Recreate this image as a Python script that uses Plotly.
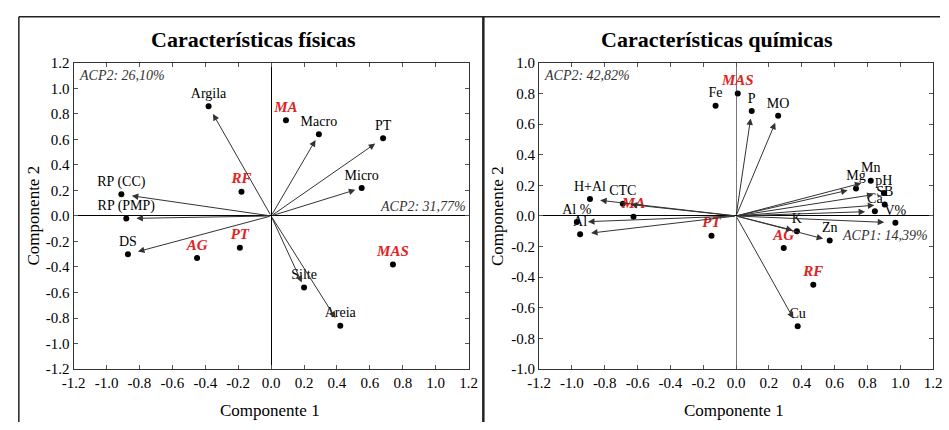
import plotly.graph_objects as go

# ---------------- data ----------------
phys_vars = ["Argila", "Macro", "PT", "Micro", "RP (CC)", "RP (PMP)", "DS", "Silte", "Areia"]
phys_x = [-0.38, 0.29, 0.68, 0.55, -0.91, -0.88, -0.87, 0.20, 0.42]
phys_y = [0.86, 0.64, 0.61, 0.22, 0.17, -0.02, -0.30, -0.56, -0.86]

phys_trt = ["MA", "RF", "AG", "PT", "MAS"]
phys_trt_x = [0.09, -0.18, -0.45, -0.19, 0.74]
phys_trt_y = [0.75, 0.19, -0.33, -0.25, -0.38]

chem_vars = ["Fe", "P", "MO", "Mg", "Mn", "pH", "SB", "Ca", "V%", "K", "Zn", "Cu",
             "H+Al", "CTC", "Al %", "Al"]
chem_x = [-0.125, 0.095, 0.256, 0.73, 0.82, 0.90, 0.905, 0.845, 0.97, 0.37, 0.57, 0.375,
          -0.89, -0.69, -0.97, -0.95]
chem_y = [0.72, 0.685, 0.654, 0.18, 0.23, 0.15, 0.075, 0.03, -0.045, -0.10, -0.16, -0.72,
          0.11, 0.08, -0.04, -0.12]
chem_has_vector = [False, True, True, True, True, True, True, True, True, True, True, True,
                   True, True, True, True]

chem_trt = ["MAS", "MA", "PT", "AG", "RF"]
chem_trt_x = [0.01, -0.625, -0.15, 0.29, 0.47]
chem_trt_y = [0.80, -0.005, -0.13, -0.21, -0.45]

phys_ticks = [-1.2, -1.0, -0.8, -0.6, -0.4, -0.2, 0.0, 0.2, 0.4, 0.6, 0.8, 1.0, 1.2]
chem_yticks = [-1.0, -0.8, -0.6, -0.4, -0.2, 0.0, 0.2, 0.4, 0.6, 0.8, 1.0]

titles = ["Características físicas", "Características químicas"]
acp_phys = ["ACP2: 26,10%", "ACP2: 31,77%"]
acp_chem = ["ACP2: 42,82%", "ACP1: 14,39%"]

# ---------------- style ----------------
W, H = 949, 430
SERIF = "Liberation Serif"
RED = "#e0241f"
ARROW_FRAC = 0.93


def fx(px):
    return px / W


def fy(py):
    return 1 - py / H


def lab(v):
    return f"{v:.1f}"


fig = go.Figure()

fig.add_trace(go.Scatter(
    x=phys_x, y=phys_y, text=phys_vars, mode="markers+text",
    textposition="top center", marker=dict(color="black", size=6),
    textfont=dict(family=SERIF, size=14, color="black"),
    xaxis="x", yaxis="y", showlegend=False, cliponaxis=False))
fig.add_trace(go.Scatter(
    x=phys_trt_x, y=phys_trt_y, text=phys_trt, mode="markers+text",
    textposition="top center", marker=dict(color="black", size=6),
    textfont=dict(family=SERIF, size=15, color=RED, weight="bold", style="italic"),
    xaxis="x", yaxis="y", showlegend=False, cliponaxis=False))
fig.add_trace(go.Scatter(
    x=chem_x, y=chem_y, text=chem_vars, mode="markers+text",
    textposition="top center", marker=dict(color="black", size=6),
    textfont=dict(family=SERIF, size=14, color="black"),
    xaxis="x2", yaxis="y2", showlegend=False, cliponaxis=False))
fig.add_trace(go.Scatter(
    x=chem_trt_x, y=chem_trt_y, text=chem_trt, mode="markers+text",
    textposition="top center", marker=dict(color="black", size=6),
    textfont=dict(family=SERIF, size=15, color=RED, weight="bold", style="italic"),
    xaxis="x2", yaxis="y2", showlegend=False, cliponaxis=False))

annotations = []

for x, y in zip(phys_x, phys_y):
    annotations.append(dict(
        x=x * ARROW_FRAC, y=y * ARROW_FRAC, ax=0, ay=0,
        xref="x", yref="y", axref="x", ayref="y",
        showarrow=True, arrowhead=2, arrowsize=1.3, arrowwidth=1,
        arrowcolor="#333333", text=""))
for x, y, v in zip(chem_x, chem_y, chem_has_vector):
    if v:
        annotations.append(dict(
            x=x * ARROW_FRAC, y=y * ARROW_FRAC, ax=0, ay=0,
            xref="x2", yref="y2", axref="x2", ayref="y2",
            showarrow=True, arrowhead=2, arrowsize=1.3, arrowwidth=1,
            arrowcolor="#333333", text=""))

annotations.append(dict(text="<b>" + titles[0] + "</b>", x=fx(247), y=fy(33), xref="paper",
                        yref="paper", showarrow=False, xanchor="center", yanchor="middle",
                        font=dict(family=SERIF, size=22, color="black")))
annotations.append(dict(text="<b>" + titles[1] + "</b>", x=fx(721), y=fy(33), xref="paper",
                        yref="paper", showarrow=False, xanchor="center", yanchor="middle",
                        font=dict(family=SERIF, size=22, color="black")))

for xc in (264, 738):
    annotations.append(dict(text="Componente 1", x=fx(xc), y=fy(418), xref="paper",
                            yref="paper", showarrow=False, xanchor="center", yanchor="middle",
                            font=dict(family=SERIF, size=17, color="black")))
for xc in (22, 497):
    annotations.append(dict(text="Componente 2", x=fx(xc), y=fy(216), xref="paper",
                            yref="paper", showarrow=False, xanchor="center", yanchor="middle",
                            textangle=-90, font=dict(family=SERIF, size=17, color="black")))

acp_font = dict(family=SERIF, size=14, color="#333333", style="italic")
annotations.append(dict(text=acp_phys[0], x=fx(66), y=fy(70), xref="paper", yref="paper",
                        showarrow=False, xanchor="left", yanchor="middle", font=acp_font))
annotations.append(dict(text=acp_phys[1], x=fx(466), y=fy(206), xref="paper", yref="paper",
                        showarrow=False, xanchor="right", yanchor="middle", font=acp_font))
annotations.append(dict(text=acp_chem[0], x=fx(542), y=fy(70), xref="paper", yref="paper",
                        showarrow=False, xanchor="left", yanchor="middle", font=acp_font))
annotations.append(dict(text=acp_chem[1], x=fx(939), y=fy(236), xref="paper", yref="paper",
                        showarrow=False, xanchor="right", yanchor="middle", font=acp_font))

common = dict(
    showgrid=False, showline=True, linecolor="#333333", linewidth=1, mirror="ticks",
    ticks="inside", ticklen=4, tickcolor="#555555", tickmode="array",
    tickfont=dict(family=SERIF, size=15, color="black"),
    zeroline=True, zerolinewidth=1, fixedrange=True,
)

fig.update_layout(
    width=W, height=H, margin=dict(l=0, r=0, t=0, b=0),
    paper_bgcolor="white", plot_bgcolor="white",
    font=dict(family=SERIF),
    xaxis=dict(domain=[fx(63), fx(467)], anchor="y", range=[-1.2, 1.2],
               tickvals=phys_ticks, ticktext=[lab(v) for v in phys_ticks],
               zerolinecolor="black", **common),
    yaxis=dict(domain=[fy(375), fy(57)], anchor="x", range=[-1.2, 1.2],
               tickvals=phys_ticks, ticktext=[lab(v) for v in phys_ticks],
               zerolinecolor="black", **common),
    xaxis2=dict(domain=[fx(539), fx(942)], anchor="y2", range=[-1.2, 1.2],
                tickvals=phys_ticks, ticktext=[lab(v) for v in phys_ticks],
                zerolinecolor="#777777", **common),
    yaxis2=dict(domain=[fy(375), fy(57)], anchor="x2", range=[-1.0, 1.0],
                tickvals=chem_yticks, ticktext=[lab(v) for v in chem_yticks],
                zerolinecolor="black", **common),
    annotations=annotations,
    shapes=[
        dict(type="line", xref="paper", yref="paper", x0=fx(7), x1=1.0, y0=fy(9), y1=fy(9),
             line=dict(color="#222222", width=1.5)),
        dict(type="line", xref="paper", yref="paper", x0=fx(7), x1=fx(7), y0=fy(9), y1=0,
             line=dict(color="#222222", width=1.5)),
        dict(type="line", xref="paper", yref="paper", x0=fx(482), x1=fx(482), y0=fy(9), y1=0,
             line=dict(color="#222222", width=2.5)),
    ],
)

fig.write_html("out.html")
